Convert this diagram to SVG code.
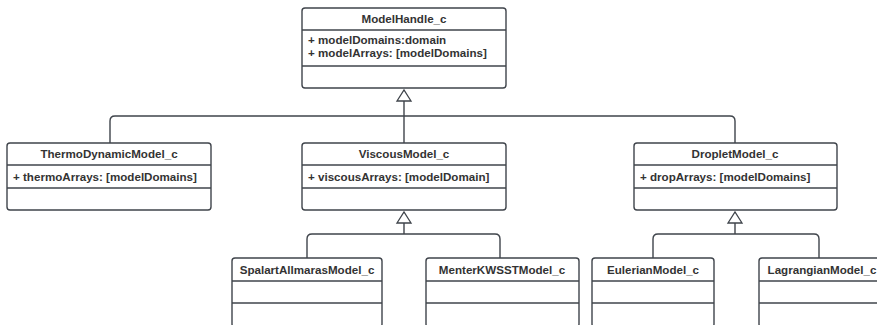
<svg xmlns="http://www.w3.org/2000/svg" width="877" height="325" viewBox="0 0 877 325">
<style>
.box{fill:#ffffff;stroke:#3f444b;stroke-width:1.4}
.div{stroke:#3f444b;stroke-width:1.4}
.t{font-family:"Liberation Sans",Arial,sans-serif;font-size:11.6px;font-weight:bold;fill:#333333;text-anchor:middle}
.a{font-family:"Liberation Sans",Arial,sans-serif;font-size:11.6px;font-weight:bold;fill:#333333}
.c{fill:none;stroke:#3f444b;stroke-width:1.4}
</style>
<defs>
<marker id="gen" viewBox="0 0 12 15" refX="11" refY="7" markerWidth="12" markerHeight="15" markerUnits="userSpaceOnUse" orient="auto" overflow="visible">
<path d="M0,0 L11,7 L0,14 Z" fill="#ffffff" stroke="#3f444b" stroke-width="1.3" stroke-linejoin="miter"/>
</marker>
</defs>
<rect width="877" height="325" fill="#ffffff"/>
<g id="connectors">
<path class="c" d="M110,143 V121 Q110,116 115,116 H730 Q735,116 735,121 V143"/>
<path class="c" d="M404,143 V90" marker-end="url(#gen)"/>
<path class="c" d="M307,258 V239 Q307,234 312,234 H495 Q500,234 500,239 V258"/>
<path class="c" d="M404,234 V212" marker-end="url(#gen)"/>
<path class="c" d="M653,258 V239 Q653,234 658,234 H814 Q819,234 819,239 V258"/>
<path class="c" d="M735,234 V212" marker-end="url(#gen)"/>
</g>
<g id="ModelHandle_c">
<rect class="box" x="302" y="8" width="204" height="80" rx="3"/>
<line class="div" x1="302" y1="30" x2="506" y2="30"/>
<line class="div" x1="302" y1="66" x2="506" y2="66"/>
<text class="t" x="404" y="23">ModelHandle_c</text>
<text class="a" x="308" y="44">+ modelDomains:domain</text>
<text class="a" x="308" y="57">+ modelArrays: [modelDomains]</text>
</g>
<g id="ThermoDynamicModel_c">
<rect class="box" x="7" y="143" width="204" height="67" rx="3"/>
<line class="div" x1="7" y1="165" x2="211" y2="165"/>
<line class="div" x1="7" y1="188" x2="211" y2="188"/>
<text class="t" x="109" y="158">ThermoDynamicModel_c</text>
<text class="a" x="13" y="180.5">+ thermoArrays: [modelDomains]</text>
</g>
<g id="ViscousModel_c">
<rect class="box" x="302" y="143" width="204" height="67" rx="3"/>
<line class="div" x1="302" y1="165" x2="506" y2="165"/>
<line class="div" x1="302" y1="188" x2="506" y2="188"/>
<text class="t" x="404" y="158">ViscousModel_c</text>
<text class="a" x="308" y="180.5">+ viscousArrays: [modelDomain]</text>
</g>
<g id="DropletModel_c">
<rect class="box" x="634" y="143" width="203" height="67" rx="3"/>
<line class="div" x1="634" y1="165" x2="837" y2="165"/>
<line class="div" x1="634" y1="188" x2="837" y2="188"/>
<text class="t" x="735" y="158">DropletModel_c</text>
<text class="a" x="640" y="180.5">+ dropArrays: [modelDomains]</text>
</g>
<g id="SpalartAllmarasModel_c">
<rect class="box" x="232" y="258" width="150" height="69" rx="3"/>
<line class="div" x1="232" y1="281" x2="382" y2="281"/>
<line class="div" x1="232" y1="303" x2="382" y2="303"/>
<text class="t" x="307" y="273.5">SpalartAllmarasModel_c</text>
</g>
<g id="MenterKWSSTModel_c">
<rect class="box" x="426" y="258" width="153" height="69" rx="3"/>
<line class="div" x1="426" y1="281" x2="579" y2="281"/>
<line class="div" x1="426" y1="303" x2="579" y2="303"/>
<text class="t" x="502" y="273.5">MenterKWSSTModel_c</text>
</g>
<g id="EulerianModel_c">
<rect class="box" x="592" y="258" width="122" height="69" rx="3"/>
<line class="div" x1="592" y1="281" x2="714" y2="281"/>
<line class="div" x1="592" y1="303" x2="714" y2="303"/>
<text class="t" x="653" y="273.5">EulerianModel_c</text>
</g>
<g id="LagrangianModel_c">
<rect class="box" x="759" y="258" width="124" height="69" rx="3"/>
<line class="div" x1="759" y1="281" x2="883" y2="281"/>
<line class="div" x1="759" y1="303" x2="883" y2="303"/>
<text class="t" x="822" y="273.5">LagrangianModel_c</text>
</g>
</svg>
